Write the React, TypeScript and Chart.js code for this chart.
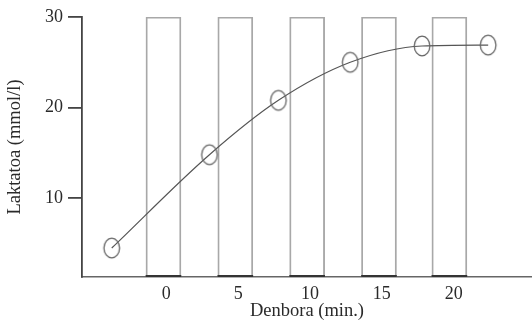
import React, { useEffect, useRef } from "react";
import { Chart, registerables } from "chart.js";

Chart.register(...registerables);

// Data
const minutes = [-3.8, 3.0, 7.8, 12.8, 17.8, 22.4];
const lactate = [4.5, 14.8, 20.8, 25.0, 26.8, 26.9];
const barPositions = [-0.2, 4.8, 9.8, 14.8, 19.7];
const barTop = 30;
const xTickValues = [0, 5, 10, 15, 20];
const yTickValues = [10, 20, 30];
const xTitle = "Denbora (min.)";
const yTitle = "Laktatoa (mmol/l)";

const X_MIN = -5.87;
const X_MAX = 25.45;
const Y_MIN = 1.3;
const Y_MAX = 30;

const FONT = "'Liberation Serif', 'Times New Roman', serif";

function makeEllipse(): HTMLCanvasElement {
  const c = document.createElement("canvas");
  c.width = 20;
  c.height = 24;
  const ctx = c.getContext("2d")!;
  ctx.strokeStyle = "#666";
  ctx.lineWidth = 1.3;
  ctx.beginPath();
  ctx.ellipse(10, 12, 7.8, 9.8, 0, 0, Math.PI * 2);
  ctx.stroke();
  return c;
}

export default function App() {
  const ref = useRef<HTMLCanvasElement | null>(null);

  useEffect(() => {
    if (!ref.current) return;
    const ellipse = makeEllipse();
    const chart = new Chart(ref.current, {
      type: "bar",
      data: {
        datasets: [
          {
            type: "bar",
            data: barPositions.map((x) => ({ x, y: [Y_MIN, barTop] })) as any,
            backgroundColor: "rgba(255,255,255,0)",
            borderColor: "#a8a8a8",
            borderWidth: 1.2,
            borderSkipped: false,
            barThickness: 35,
            grouped: false,
            order: 3,
          } as any,
          {
            type: "bar",
            data: barPositions.map((x) => ({ x, y: [Y_MIN, Y_MIN + 0.18] })) as any,
            backgroundColor: "#333",
            borderWidth: 0,
            barThickness: 35,
            grouped: false,
            order: 2,
          } as any,
          {
            type: "line",
            data: minutes.map((x, i) => ({ x, y: lactate[i] })),
            borderColor: "#555",
            borderWidth: 1.2,
            cubicInterpolationMode: "monotone",
            pointStyle: ellipse as any,
            pointRadius: 9,
            order: 1,
          } as any,
        ],
      },
      options: {
        responsive: false,
        animation: false,
        layout: { autoPadding: false, padding: { top: 17, right: 0, left: 0, bottom: 0 } },
        plugins: { legend: { display: false }, tooltip: { enabled: false } },
        scales: {
          x: {
            type: "linear",
            min: X_MIN,
            max: X_MAX,
            offset: false,
            afterBuildTicks: (s: any) => {
              s.ticks = xTickValues.map((v) => ({ value: v }));
            },
            afterFit: (s: any) => {
              s.height = 43;
              s.paddingLeft = 0;
              s.paddingRight = 0;
            },
            grid: { offset: false, drawOnChartArea: false, drawTicks: false, color: "#666" },
            border: { display: true, color: "#666", width: 1.5 },
            ticks: {
              padding: 6,
              color: "#2a2a2a",
              font: { family: FONT, size: 18 },
              maxRotation: 0,
            },
            title: {
              display: true,
              text: xTitle,
              color: "#2a2a2a",
              font: { family: FONT, size: 18.5, lineHeight: 1 },
              padding: { top: 0, bottom: 0 },
            },
          },
          y: {
            type: "linear",
            min: Y_MIN,
            max: Y_MAX,
            afterBuildTicks: (s: any) => {
              s.ticks = yTickValues.map((v) => ({ value: v }));
            },
            afterFit: (s: any) => {
              s.width = 82;
              s.paddingTop = 0;
              s.paddingBottom = 0;
            },
            grid: { drawOnChartArea: false, drawTicks: true, tickLength: 14, color: "#444", lineWidth: 1.8 },
            border: { display: true, color: "#444", width: 1.8 },
            ticks: {
              padding: 5,
              color: "#2a2a2a",
              font: { family: FONT, size: 18 },
            },
            title: {
              display: true,
              text: yTitle,
              color: "#2a2a2a",
              font: { family: FONT, size: 18.5, lineHeight: 1.2 },
              padding: { top: 4, bottom: 4 },
            },
          },
        },
      },
    });
    return () => chart.destroy();
  }, []);

  return (
    <div style={{ position: "fixed", left: 0, top: 0, width: 532, height: 320, background: "#fff" }}>
      <canvas ref={ref} width={532} height={320} />
    </div>
  );
}
